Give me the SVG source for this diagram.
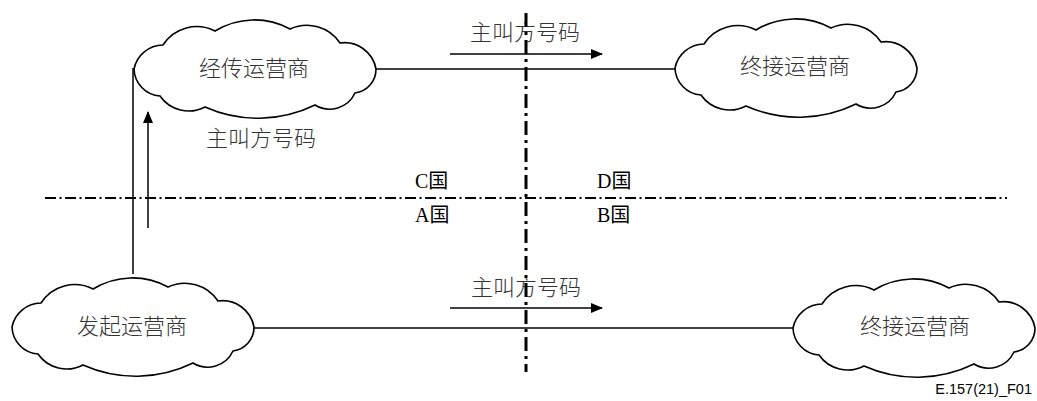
<svg xmlns="http://www.w3.org/2000/svg" width="1037" height="401" viewBox="0 0 1037 401" xmlns:xlink="http://www.w3.org/1999/xlink">
<style>
.cloud{fill:#fff;stroke:#000;stroke-width:1.6}
.ln{stroke:#000;stroke-width:1.5;fill:none}
.arr{stroke:#000;stroke-width:1.5;fill:none;marker-end:url(#ah)}
.cjk{font-family:"Liberation Serif","Noto Sans CJK SC",serif;font-size:22px;font-weight:300;fill:#333;text-anchor:middle}
.cty{font-family:"Liberation Serif","Noto Sans CJK SC",serif;font-size:20px;fill:#000;text-anchor:start}
.ft{font-family:"Liberation Sans",Arial,sans-serif;font-size:14.5px;fill:#000;text-anchor:end}
</style>
<defs>
<marker id="ah" markerWidth="12" markerHeight="10" refX="11" refY="5" orient="auto" markerUnits="userSpaceOnUse">
<path d="M0,0 L12,5 L0,10 Z" fill="#000"/>
</marker>
<path id="cl" d="M-121,0 A30,30 0 0 1 -92,-24 A40,40 0 0 1 -40,-38 A75,75 0 0 1 35,-40 A40,40 0 0 1 85,-26 A32,32 0 0 1 121,0 A24,24 0 0 1 100,24 A28,28 0 0 1 60,36 A130,130 0 0 1 -50,38 A35,35 0 0 1 -95,27 A28,28 0 0 1 -121,0 Z"/>
</defs>

<g id="connectors">
<line class="ln" x1="376" y1="69" x2="676" y2="69"/>
<line class="ln" x1="254" y1="328" x2="795" y2="328"/>
<line class="ln" x1="133" y1="68" x2="133" y2="274"/>
<line class="arr" x1="450" y1="54" x2="602" y2="54"/>
<line class="arr" x1="450" y1="308" x2="602" y2="308"/>
<line class="arr" x1="148" y1="228" x2="148" y2="112"/>
</g>

<g id="transit">
<use xlink:href="#cl" href="#cl" class="cloud" transform="translate(255,69)"/>
<text class="cjk" x="254" y="76" font-size="23">经传运营商</text>
</g>
<g id="term-top">
<use xlink:href="#cl" href="#cl" class="cloud" transform="translate(796,68)"/>
<text class="cjk" x="795" y="74" font-size="23">终接运营商</text>
</g>
<g id="origin">
<use xlink:href="#cl" href="#cl" class="cloud" transform="translate(133,327)"/>
<text class="cjk" x="132" y="334" font-size="23">发起运营商</text>
</g>
<g id="term-bottom">
<use xlink:href="#cl" href="#cl" class="cloud" transform="translate(914,328)"/>
<text class="cjk" x="915" y="334" font-size="23">终接运营商</text>
</g>

<g id="labels">
<text class="cjk" x="525" y="40">主叫方号码</text>
<text class="cjk" x="526" y="295">主叫方号码</text>
<text class="cjk" x="261" y="146">主叫方号码</text>
<text class="cty" x="415" y="188">C国</text>
<text class="cty" x="415" y="222">A国</text>
<text class="cty" x="597" y="188">D国</text>
<text class="cty" x="597" y="222">B国</text>
<text class="ft" x="1032" y="394">E.157(21)_F01</text>
</g>

<g id="borders">
<line x1="45" y1="198" x2="1007" y2="198" stroke="#000" stroke-width="2" stroke-dasharray="11 3.5 2 3.5"/>
<line x1="526" y1="13" x2="526" y2="372" stroke="#000" stroke-width="3" stroke-dasharray="14 5 3 5"/>
</g>
</svg>
